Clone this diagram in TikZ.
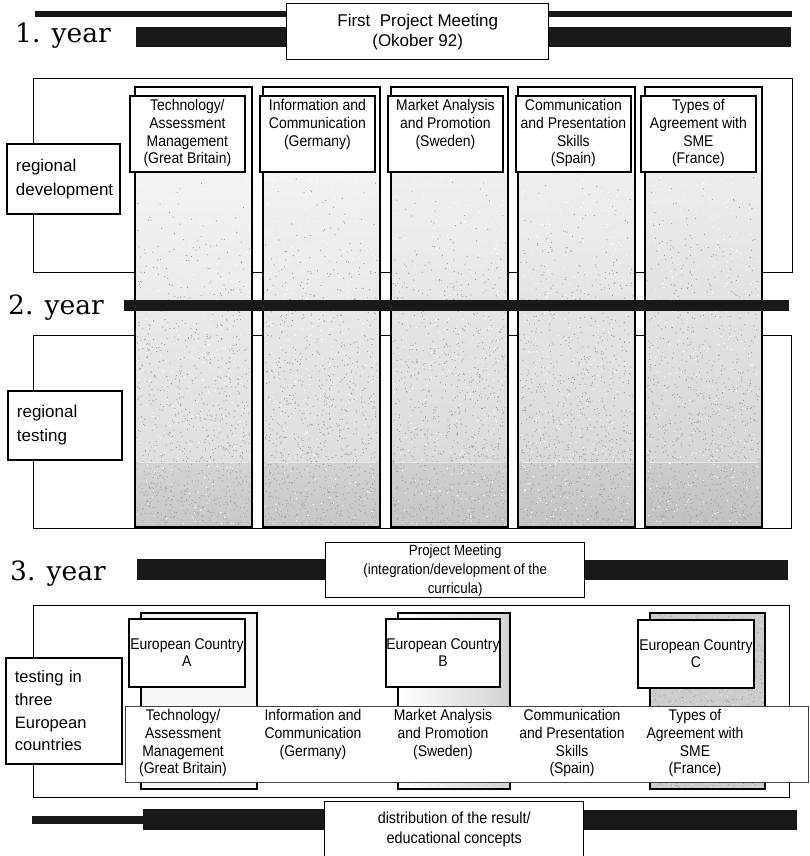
\documentclass[tikz,border=0pt]{standalone}
\usepackage{fontspec}
\newfontfamily\labelsf{Liberation Sans}
\newfontfamily\narrowsf[FakeStretch=0.9]{Liberation Sans}
\newfontfamily\yearfont{DejaVu Serif}

\tikzset{
  frame/.style={draw=black, line width=1.3pt, fill=white},
  hdrbox/.style={draw=black, line width=1.8pt, fill=white, inner sep=0pt},
  barfill/.style={fill=black!90},
  yearlabel/.style={anchor=base west, inner sep=0pt, font=\yearfont\fontsize{26.5}{26.5}\selectfont},
  sidelabel/.style={frame, line width=1.8pt, align=left, inner xsep=9pt, inner ysep=0pt,
    font=\labelsf\fontsize{17}{24}\selectfont},
  hdrtext/.style={anchor=north, align=center, inner sep=0pt,
    font=\narrowsf\fontsize{15.5}{17.8}\selectfont},
  meetbox/.style={frame, line width=1.4pt, align=center, inner sep=0pt},
  countrybox/.style={hdrbox, align=center, font=\narrowsf\fontsize{15.5}{17}\selectfont},
}

\begin{document}
\begin{tikzpicture}[x=1pt, y=-1pt]
\useasboundingbox (0,0) rectangle (809,856);
\fill[white] (0,0) rectangle (809,856);

% ---------- first year: meeting bars ----------
\fill[barfill] (35,11) rectangle (792,17);
\fill[barfill] (136,27) rectangle (791,47);
\node[meetbox, minimum width=262, minimum height=56, anchor=north west,
      font=\labelsf\fontsize{17}{20}\selectfont] (meet1) at (286,3)
      {First\ \ Project Meeting\\(Okober 92)};
\node[yearlabel] (y1) at (15,43) {1. year};

% ---------- stage frames ----------
\node[frame, minimum width=759, minimum height=194, anchor=north west] (devframe) at (33,78) {};
\node[frame, minimum width=758, minimum height=193, anchor=north west] (testframe) at (33,335) {};

% ---------- five module columns ----------
\pgfmathsetseed{4711}
\foreach \cx/\hx/\ta/\tb/\tc/\td/\n in {135/129/9/26/34/44/1, 263/259/10/27/35/45/2,
                                        391/387/12/29/37/46/3, 518/515/13/30/38/47/4,
                                        645/640/15/32/40/49/5} {
  \fill[white] (\cx,87) rectangle ++(117,440);
  \shade[top color=gray!\ta, bottom color=gray!\tb] (\cx,172) rectangle ++(117,290);
  \shade[top color=gray!\tc, bottom color=gray!\td] (\cx,462) rectangle ++(117,65);
  \foreach \i in {1,...,900} {
    \fill[gray!72] ({\cx+2+113*rnd},{173+352*sqrt(rnd)}) circle (0.6);
  }
  \foreach \i in {1,...,300} {
    \fill[white] ({\cx+2+113*rnd},{173+352*rnd}) circle (0.65);
  }
  \draw[white!80!gray, line width=0.9pt] (\cx+4,462) -- ++(109,0);
  \draw[line width=1.6pt] (\cx,87) rectangle ++(117,440);
  \node[hdrbox, minimum width=115, minimum height=76, anchor=north west] (hdr\n) at (\hx,95) {};
}
\node[hdrtext] (t1) at ([yshift=-4]hdr1.north) {Technology/\\Assessment\\Management\\(Great Britain)};
\node[hdrtext] (t2) at ([yshift=-4]hdr2.north) {Information and\\Communication\\(Germany)};
\node[hdrtext] (t3) at ([yshift=-4]hdr3.north) {Market Analysis\\and Promotion\\(Sweden)};
\node[hdrtext] (t4) at ([yshift=-4]hdr4.north) {Communication\\and Presentation\\Skills\\(Spain)};
\node[hdrtext] (t5) at ([yshift=-4]hdr5.north) {Types of\\Agreement with\\SME\\(France)};

\node[sidelabel, text width=95, minimum height=70, anchor=north west] (regdev) at (6,143)
      {regional\\development};
\node[sidelabel, text width=96, minimum height=69, anchor=north west] (regtest) at (7,390)
      {regional\\testing};

% ---------- second year ----------
\fill[barfill] (124,300) rectangle (789,311);
\node[yearlabel] (y2) at (8,314) {2. year};

% ---------- third year: project meeting ----------
\fill[barfill] (137,559) rectangle (326,580);
\fill[barfill] (583,560) rectangle (788,580);
\node[meetbox, minimum width=259, minimum height=55, anchor=north west,
      font=\narrowsf\fontsize{14.8}{19}\selectfont] (meet2) at (325,542)
      {Project Meeting\\(integration/development of the\\curricula)};
\node[yearlabel] (y3) at (10,580) {3. year};

% ---------- testing in three countries ----------
\node[frame, minimum width=756, minimum height=192, anchor=north west] (euframe) at (33,605) {};

% country A
\draw[line width=1.3pt, fill=gray!6] (141,613) rectangle (257,789);
% country B
\shade[left color=white, right color=gray!35] (398,613) rectangle (510,789);
\draw[line width=1.3pt] (398,613) rectangle (510,789);
% country C
\fill[gray!40] (650,613) rectangle (765,789);
\foreach \i in {1,...,500} {
  \fill[gray!78] ({651+113*rnd},{614+174*rnd}) circle (0.6);
}
\foreach \i in {1,...,250} {
  \fill[white!85!gray] ({651+113*rnd},{614+174*rnd}) circle (0.65);
}
\draw[line width=1.3pt] (650,613) rectangle (765,789);

\node[countrybox, minimum width=116, minimum height=68, anchor=north west] (ca) at (128,618)
      {European Country\\A};
\node[countrybox, minimum width=114, minimum height=68, anchor=north west] (cb) at (385,618)
      {European Country\\B};
\node[countrybox, minimum width=116, minimum height=68, anchor=north west] (cc) at (637,619)
      {European Country\\C};

\node[draw=black!75, line width=0.9pt, fill=white, minimum width=683, minimum height=76,
      anchor=north west] (band) at (125,706) {};
\node[hdrtext] (b1) at (183,709) {Technology/\\Assessment\\Management\\(Great Britain)};
\node[hdrtext] (b2) at (313,709) {Information and\\Communication\\(Germany)};
\node[hdrtext] (b3) at (443,709) {Market Analysis\\and Promotion\\(Sweden)};
\node[hdrtext] (b4) at (572,709) {Communication\\and Presentation\\Skills\\(Spain)};
\node[hdrtext] (b5) at (695,709) {Types of\\Agreement with\\SME\\(France)};

\node[sidelabel, text width=98, minimum height=106, anchor=north west,
      font=\labelsf\fontsize{16.5}{22.7}\selectfont] (eutest) at (5,657)
      {testing in\\three\\European\\countries};

% ---------- distribution ----------
\fill[barfill] (32,816) rectangle (143,824);
\fill[barfill] (143,809) rectangle (325,830);
\fill[barfill] (583,810) rectangle (797,830);
\node[meetbox, minimum width=259, minimum height=56, anchor=north west,
      font=\narrowsf\fontsize{16}{20}\selectfont] (dist) at (324,801)
      {distribution of the result/\\educational concepts};
\end{tikzpicture}
\end{document}
